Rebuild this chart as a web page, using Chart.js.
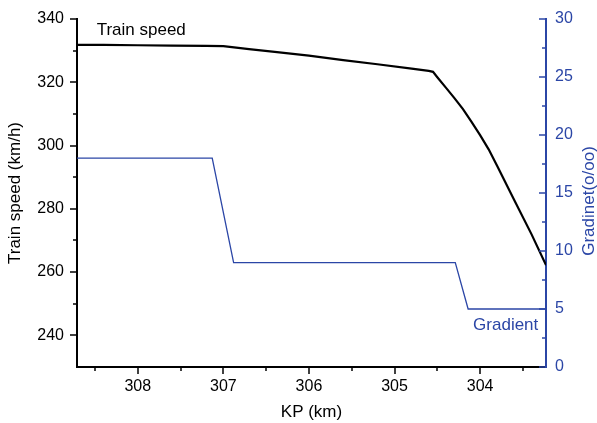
<!DOCTYPE html>
<html><head><meta charset="utf-8">
<script src="https://cdn.jsdelivr.net/npm/chart.js@4"></script>
<style>html,body{margin:0;padding:0;background:#fff}canvas{display:block}</style>
</head><body>
<canvas id="c" width="597" height="423"></canvas>
<script>
// ---- data ----
const speedKm  = [308.71, 308.4, 308.0, 307.6, 307.2, 307.0, 306.9, 306.7, 306.4, 306.0, 305.6, 305.2, 304.8, 304.6, 304.55, 304.5, 304.4, 304.3, 304.2, 304.1, 304.0, 303.9, 303.8, 303.6, 303.4, 303.23];
const speedVal = [331.8, 331.8, 331.7, 331.6, 331.5, 331.4, 331.1, 330.5, 329.6, 328.4, 327.0, 325.7, 324.3, 323.6, 323.3, 321.6, 318.3, 315.0, 311.5, 307.5, 303.3, 298.8, 293.5, 282.7, 272.0, 262.2];
const gradKm   = [308.71, 307.13, 306.88, 304.29, 304.14, 303.23];
const gradVal  = [18, 18, 9, 9, 5, 5];
const xMajor   = [308, 307, 306, 305, 304];
const xMinor   = [308.5, 307.5, 306.5, 305.5, 304.5, 303.5];
const yMajor   = [240, 260, 280, 300, 320, 340];
const yMinor   = [250, 270, 290, 310, 330];
const y1Major  = [0, 5, 10, 15, 20, 25, 30];
const y1Minor  = [2.5, 7.5, 12.5, 17.5, 22.5, 27.5];
const xRange   = [303.23, 308.71];
const yRange   = [230, 340];
const y1Range  = [0, 30];

const BLUE = '#2b46a6';
const FONT = '"Liberation Sans", Arial, sans-serif';

const extras = {
  id: 'extras',
  afterDraw(chart) {
    const ctx = chart.ctx;
    const { x, y, y1 } = chart.scales;
    const a = chart.chartArea;
    const seg = (x0, y0, x2, y2) => { ctx.beginPath(); ctx.moveTo(x0, y0); ctx.lineTo(x2, y2); ctx.stroke(); };
    ctx.save();
    ctx.lineWidth = 1.5;
    ctx.strokeStyle = '#000';
    xMajor.forEach(v => { const p = Math.round(x.getPixelForValue(v)); seg(p, a.bottom, p, a.bottom + 7); });
    xMinor.forEach(v => { const p = Math.round(x.getPixelForValue(v)); seg(p, a.bottom, p, a.bottom + 4); });
    yMajor.forEach(v => { const p = Math.round(y.getPixelForValue(v)); seg(a.left, p, a.left - 7, p); });
    yMinor.forEach(v => { const p = Math.round(y.getPixelForValue(v)); seg(a.left, p, a.left - 4, p); });
    ctx.strokeStyle = BLUE;
    y1Major.forEach(v => { const p = Math.round(y1.getPixelForValue(v)); seg(a.right, p, a.right - 7, p); });
    y1Minor.forEach(v => { const p = Math.round(y1.getPixelForValue(v)); seg(a.right, p, a.right - 4, p); });

    // series labels
    ctx.font = '17px ' + FONT;
    ctx.textBaseline = 'middle';
    ctx.fillStyle = '#000';
    ctx.textAlign = 'left';
    ctx.fillText('Train speed', x.getPixelForValue(308.48), y.getPixelForValue(336.5));
    ctx.fillStyle = BLUE;
    ctx.textAlign = 'right';
    ctx.fillText('Gradient', x.getPixelForValue(303.32), y1.getPixelForValue(3.6));

    // right axis title (reads bottom to top)
    ctx.translate(589, (a.top + a.bottom) / 2 + 8);
    ctx.rotate(-Math.PI / 2);
    ctx.textAlign = 'center';
    ctx.fillText('Gradinet(o/oo)', 0, 0);
    ctx.restore();
  }
};

new Chart(document.getElementById('c'), {
  type: 'line',
  data: {
    datasets: [
      {
        label: 'Train speed',
        data: speedKm.map((k, i) => ({ x: k, y: speedVal[i] })),
        borderColor: '#000', borderWidth: 2.2, pointRadius: 0, tension: 0, yAxisID: 'y', fill: false
      },
      {
        label: 'Gradient',
        data: gradKm.map((k, i) => ({ x: k, y: gradVal[i] })),
        borderColor: BLUE, borderWidth: 1.3, pointRadius: 0, tension: 0, yAxisID: 'y1', fill: false
      }
    ]
  },
  options: {
    responsive: false,
    animation: false,
    devicePixelRatio: 1,
    layout: { padding: { top: 19, left: 0, right: 0, bottom: 0 } },
    plugins: { legend: { display: false }, tooltip: { enabled: false } },
    scales: {
      x: {
        type: 'linear', position: 'bottom', reverse: true,
        min: xRange[0], max: xRange[1],
        afterBuildTicks: s => { s.ticks = xMajor.map(v => ({ value: v })); },
        afterFit: s => { s.height = 56; },
        grid: { display: false, drawTicks: true, tickLength: 7 },
        border: { display: true, color: '#000', width: 2 },
        ticks: { color: '#000', font: { family: FONT, size: 16 }, padding: 3, maxRotation: 0, autoSkip: false,
                 callback: v => String(v) },
        title: { display: true, text: 'KP (km)', color: '#000', font: { family: FONT, size: 17, weight: 'normal' }, padding: 0 }
      },
      y: {
        type: 'linear', position: 'left',
        min: yRange[0], max: yRange[1],
        afterBuildTicks: s => { s.ticks = yMajor.map(v => ({ value: v })); },
        afterFit: s => { s.width = 77; },
        grid: { display: false, drawTicks: true, tickLength: 7 },
        border: { display: true, color: '#000', width: 2 },
        ticks: { color: '#000', font: { family: FONT, size: 16 }, padding: 6, autoSkip: false },
        title: { display: true, text: 'Train speed (km/h)', color: '#000', font: { family: FONT, size: 17, weight: 'normal' }, padding: { top: 5, bottom: 0 } }
      },
      y1: {
        type: 'linear', position: 'right',
        min: y1Range[0], max: y1Range[1],
        afterBuildTicks: s => { s.ticks = y1Major.map(v => ({ value: v })); },
        afterFit: s => { s.width = 51; },
        grid: { display: false, drawTicks: true, tickLength: 7 },
        border: { display: true, color: BLUE, width: 2 },
        ticks: { color: BLUE, font: { family: FONT, size: 16 }, padding: 2, autoSkip: false },
        title: { display: false }
      }
    }
  },
  plugins: [extras]
});
</script>
</body></html>
